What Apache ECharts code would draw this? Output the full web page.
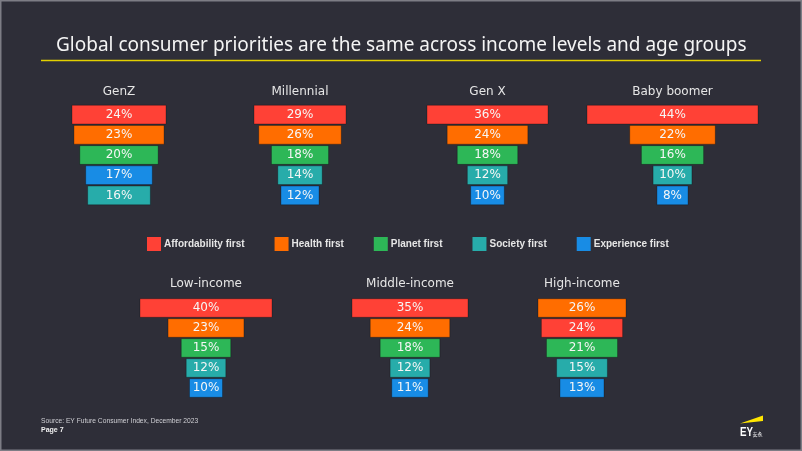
<!DOCTYPE html>
<html>
<head>
<meta charset="utf-8">
<script src="https://cdn.jsdelivr.net/npm/echarts@6/dist/echarts.min.js"></script>
<style>
html,body{margin:0;padding:0;background:#2e2e38;}
#chart{width:802px;height:451px;}
</style>
</head>
<body>
<div id="chart"></div>
<script>
// ---- Data ----
const groups = ['GenZ', 'Millennial', 'Gen X', 'Baby boomer', 'Low-income', 'Middle-income', 'High-income'];
const priorities = ['Affordability first', 'Health first', 'Planet first', 'Society first', 'Experience first'];
const affordability = [24, 29, 36, 44, 40, 35, 24];
const health        = [23, 26, 24, 22, 23, 24, 26];
const planet        = [20, 18, 18, 16, 15, 18, 21];
const society       = [16, 14, 12, 10, 12, 12, 15];
const experience    = [17, 12, 10,  8, 10, 11, 13];
const titleText = 'Global consumer priorities are the same across income levels and age groups';
const sourceText = 'Source: EY Future Consumer Index, December 2023';
const pageText = 'Page 7';

// ---- Styles / layout ----
const colors = ['#ff4136', '#ff6d00', '#2db757', '#27acaa', '#188ce5'];
const layout = [
  {cx: 119,   w: 94,  top: 104.5, h: 101, ty: 92},
  {cx: 300,   w: 92,  top: 104.5, h: 101, ty: 92},
  {cx: 487.5, w: 121, top: 104.5, h: 101, ty: 92},
  {cx: 672.5, w: 171, top: 104.5, h: 101, ty: 92},
  {cx: 206,   w: 132, top: 298,   h: 100, ty: 284},
  {cx: 410,   w: 116, top: 298,   h: 100, ty: 284},
  {cx: 582,   w: 88,  top: 298,   h: 100, ty: 284}
];

const valueSets = [affordability, health, planet, society, experience];

function renderItem(params, api) {
  const v = api.value(0);
  const r = api.value(1);
  const c = api.coord([0, r]);
  const s = api.size([v, 1]);
  const h = s[1] - 1.5;
  return {
    type: 'rect',
    shape: {x: c[0] - s[0] / 2, y: c[1] - h / 2, width: s[0], height: h},
    style: {fill: api.visual('color'), stroke: 'rgba(0,0,0,0.28)', lineWidth: 1},
    textContent: {
      style: {text: v + '%', fill: '#f6f6f6', font: '12px "DejaVu Sans"'}
    },
    textConfig: {position: 'inside'}
  };
}

const grids = [], xAxes = [], yAxes = [], series = [], graphics = [];
groups.forEach(function (g, gi) {
  const L = layout[gi];
  const vals = valueSets.map(function (arr) { return arr[gi]; });
  const order = vals.map(function (v, i) { return i; }).sort(function (a, b) { return vals[b] - vals[a]; });
  const maxV = Math.max.apply(null, vals);
  grids.push({left: L.cx - L.w / 2, width: L.w, top: L.top, height: L.h});
  xAxes.push({gridIndex: gi, type: 'value', min: -maxV / 2, max: maxV / 2, show: false});
  yAxes.push({gridIndex: gi, type: 'category', data: ['0', '1', '2', '3', '4'], inverse: true, show: false});
  order.forEach(function (pi, rank) {
    series.push({
      type: 'custom',
      name: priorities[pi],
      xAxisIndex: gi,
      yAxisIndex: gi,
      itemStyle: {color: colors[pi]},
      encode: {x: 0, y: 1},
      renderItem: renderItem,
      data: [[vals[pi], rank]]
    });
  });
  graphics.push({
    type: 'text', x: L.cx, y: L.ty,
    style: {text: g, fill: '#e6e6e6', font: '12px "DejaVu Sans"', align: 'center', verticalAlign: 'middle'}
  });
});

// Frame, rule, footer, logo
graphics.push(
  {type: 'rect', shape: {x: 0.5, y: 0.5, width: 801, height: 450}, style: {fill: 'none', stroke: '#7d7d85', lineWidth: 2}, silent: true},
  {type: 'line', shape: {x1: 41, y1: 60.5, x2: 761, y2: 60.5}, style: {stroke: '#e2d000', lineWidth: 1.5}},
  {type: 'text', x: 41, y: 421, style: {text: sourceText, fill: '#cfcfd4', font: '6.7px "Liberation Sans"', verticalAlign: 'middle'}},
  {type: 'text', x: 41, y: 430.5, style: {text: pageText, fill: '#f0f0f0', font: 'bold 7px "Liberation Sans"', verticalAlign: 'middle'}},
  {type: 'polygon', shape: {points: [[740, 423.5], [763, 415.5], [763, 421]]}, style: {fill: '#ffe600'}},
  {type: 'text', x: 740, y: 432.5, scaleX: 0.75, style: {text: 'EY', fill: '#ffffff', font: 'bold 13px "Liberation Sans"', verticalAlign: 'middle'}},
  {type: 'text', x: 752.5, y: 434, style: {text: '安永', fill: '#ffffff', font: '5px "Noto Sans CJK SC"', verticalAlign: 'middle'}}
);

const chart = echarts.init(document.getElementById('chart'), null, {renderer: 'canvas'});
chart.setOption({
  backgroundColor: '#2e2e38',
  animation: false,
  title: {
    text: titleText, left: 51, top: 31,
    textStyle: {color: '#f4f4f4', fontSize: 19, fontWeight: 'normal', fontFamily: 'Noto Sans'}
  },
  legend: {
    data: priorities.map(function (p) { return {name: p, icon: 'rect'}; }),
    left: 147, top: 237, itemWidth: 14, itemHeight: 14, itemGap: 30, padding: 0,
    textStyle: {color: '#e6e6e6', fontSize: 10, fontWeight: 'bold', fontFamily: 'Liberation Sans', padding: [0, 0, 0, -2]}
  },
  grid: grids,
  xAxis: xAxes,
  yAxis: yAxes,
  series: series,
  graphic: graphics
});
</script>
</body>
</html>
